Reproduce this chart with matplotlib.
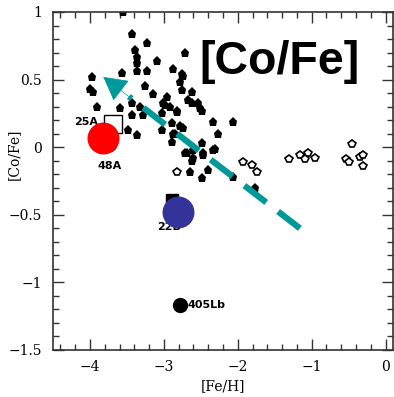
import matplotlib
matplotlib.use("Agg")
import matplotlib.pyplot as plt
from matplotlib.ticker import MultipleLocator

# halo stars, filled
fe_filled = [-3.55, -3.43, -3.23, -3.39, -2.72, -3.36, -3.36, -3.09, -3.57, -3.97,
             -3.36, -3.23, -2.88, -2.76, -4.00, -3.96, -3.26, -2.78, -2.76, -2.62,
             -3.15, -2.96, -2.67, -3.91, -3.59, -3.43, -3.32, -3.01, -2.92, -2.82,
             -2.62, -3.43, -3.28, -3.03, -3.03, -2.89, -2.78, -2.74, -3.49, -3.36,
             -2.88, -2.89, -2.72, -2.61, -2.65, -2.61, -2.54, -2.51, -2.34, -2.07,
             -2.27, -2.31, -2.47, -2.49, -2.49, -2.40, -2.49, -2.07, -1.77, -2.85,
             -2.69, -2.62, -2.47, -2.34, -2.74, -2.99, -2.82]
co_filled = [1.00, 0.84, 0.77, 0.72, 0.70, 0.67, 0.62, 0.64, 0.55, 0.52,
             0.56, 0.56, 0.58, 0.54, 0.43, 0.41, 0.45, 0.48, 0.42, 0.41,
             0.39, 0.37, 0.35, 0.30, 0.29, 0.33, 0.30, 0.33, 0.30, 0.27,
             0.33, 0.24, 0.24, 0.25, 0.13, 0.18, 0.16, 0.14, 0.13, 0.09,
             0.10, 0.04, -0.04, -0.02, -0.18, -0.08, 0.33, 0.29, 0.19, 0.19,
             0.10, -0.01, -0.06, 0.03, 0.27, -0.17, -0.23, -0.22, -0.30, 0.10,
             -0.04, -0.10, -0.04, -0.02, 0.53, 0.31, 0.26]

# disc stars, open
fe_open = [-2.82, -1.93, -1.81, -1.74, -1.31, -1.16, -1.05, -1.09, -0.95,
           -0.45, -0.54, -0.50, -0.34, -0.30, -0.30]
co_open = [-0.18, -0.11, -0.13, -0.18, -0.09, -0.06, -0.04, -0.09, -0.08,
           0.02, -0.09, -0.11, -0.07, -0.06, -0.14]

# special objects
fe_25a, co_25a = -3.69, 0.17
fe_48a, co_48a = -3.76, 0.03
fe_red, co_red = -3.82, 0.07
fe_22b, co_22b = -2.89, -0.39
fe_blue, co_blue = -2.81, -0.48
fe_405, co_405 = -2.78, -1.17

# trend arrow (tail -> head)
arrow_fe = [-1.16, -3.82]
arrow_co = [-0.60, 0.52]

teal = "#009999"

fig = plt.figure(figsize=(3.94, 3.97), dpi=100)
ax = fig.add_axes([0.1345, 0.1184, 0.8630, 0.8514])

ax.plot(fe_filled, co_filled, "p", color="black", ms=6.5, mew=0)
ax.plot(fe_open, co_open, "p", mfc="white", mec="black", ms=5.5, mew=1.2)

ax.plot(fe_25a, co_25a, "s", mfc="white", mec="black", ms=13, mew=1.0)
ax.plot(fe_48a, co_48a, "o", mfc="white", mec="black", ms=12, mew=1.2)
ax.plot(fe_22b, co_22b, "s", color="black", ms=8)
ax.plot(fe_405, co_405, "o", color="black", ms=10)

ax.plot(fe_red, co_red, "o", color="#ff0000", ms=23, mew=0, zorder=5)
ax.plot(fe_blue, co_blue, "o", color="#333399", ms=23, mew=0, zorder=5)

lab = dict(fontsize=8, fontweight="bold", family="DejaVu Sans")
ax.text(fe_25a - 0.2, co_25a + 0.02, "25A", ha="right", va="center", **lab)
ax.text(fe_48a + 0.03, co_48a - 0.13, "48A", ha="center", va="top", **lab)
ax.text(fe_22b - 0.2, co_22b - 0.2, "22B", ha="left", va="center", zorder=1, **lab)
ax.text(fe_405 + 0.1, co_405, "405Lb", ha="left", va="center", **lab)

# dashed shaft + head
fx = arrow_fe[1] + (arrow_fe[0] - arrow_fe[1]) * 0.13
fy = arrow_co[1] + (arrow_co[0] - arrow_co[1]) * 0.13
ax.plot([arrow_fe[0], fx], [arrow_co[0], fy], color=teal, lw=4.5,
        dashes=(4.4, 2.4), solid_capstyle="butt", dash_capstyle="butt", zorder=6)
ax.annotate("", xy=(arrow_fe[1], arrow_co[1]), xytext=(fx, fy),
            arrowprops=dict(arrowstyle="-|>,head_length=1.1,head_width=0.6",
                            color=teal, lw=0.5, mutation_scale=14,
                            shrinkA=0, shrinkB=0), zorder=6)

ax.text(-2.52, 0.63, "[Co/Fe]", fontsize=33.5, fontweight="bold",
        family="Liberation Sans", ha="left", va="center")

ax.set_xlim(-4.5, 0.1)
ax.set_ylim(-1.5, 1.0)
ax.xaxis.set_major_locator(MultipleLocator(1))
ax.xaxis.set_minor_locator(MultipleLocator(0.2))
ax.yaxis.set_major_locator(MultipleLocator(0.5))
ax.yaxis.set_minor_locator(MultipleLocator(0.1))
ax.set_xticks([-4, -3, -2, -1, 0])
ax.set_xticklabels(["\u22124", "\u22123", "\u22122", "\u22121", "0"])
ax.set_yticks([-1.5, -1, -0.5, 0, 0.5, 1])
ax.set_yticklabels(["\u22121.5", "\u22121", "\u22120.5", "0", "0.5", "1"])
ax.tick_params(which="both", direction="in", top=True, right=True,
               labelsize=10, width=1.0, colors="#333333", labelcolor="black")
ax.tick_params(which="major", length=8)
ax.tick_params(which="minor", length=4)
ax.tick_params(axis="x", which="major", pad=7)
ax.tick_params(axis="y", which="major", pad=8)
for t in ax.get_xticklabels() + ax.get_yticklabels():
    t.set_family("DejaVu Serif")
for s in ax.spines.values():
    s.set_linewidth(1.2)
    s.set_color("#333333")

ax.set_xlabel("[Fe/H]", family="DejaVu Serif", fontsize=10, labelpad=4)
ax.set_ylabel("[Co/Fe]", family="DejaVu Serif", fontsize=10)
ax.yaxis.set_label_coords(-0.095, 0.58)

fig.savefig("out.png", dpi=100)
